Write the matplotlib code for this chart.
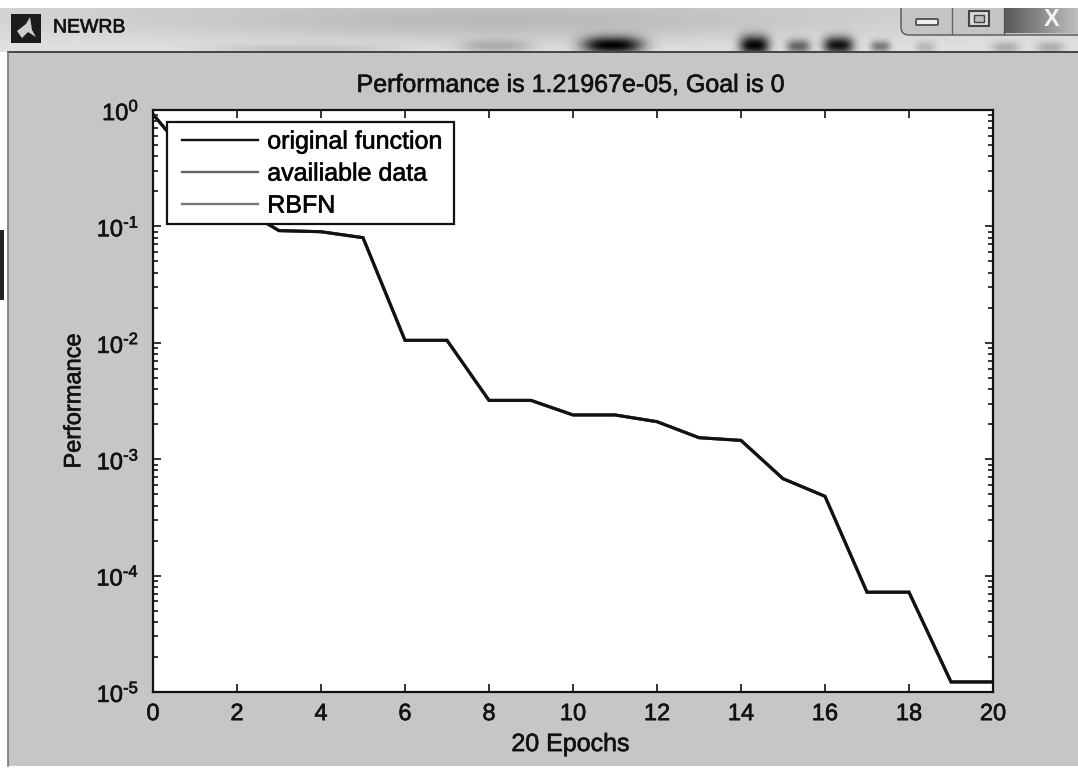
#!/usr/bin/env python3
"""NEWRB training performance window, greyscale screenshot look."""
import numpy as np
import matplotlib
matplotlib.use("Agg")
import matplotlib.pyplot as plt
import matplotlib.patheffects as pe
from matplotlib.patches import FancyBboxPatch, Rectangle, Polygon
from matplotlib.ticker import LogLocator, NullFormatter

plt.rcParams["font.family"] = ["Liberation Sans", "DejaVu Sans"]
plt.rcParams["mathtext.fontset"] = "custom"
plt.rcParams["mathtext.rm"] = "Liberation Sans"
plt.rcParams["mathtext.default"] = "regular"

epochs = [0, 1, 2, 3, 4, 5, 6, 7, 8, 9, 10, 11, 12, 13, 14, 15, 16, 17, 18, 19, 20]
performance = [0.92, 0.34, 0.15, 0.092, 0.09, 0.08, 0.0105, 0.0105, 0.0032, 0.0032,
               0.0024, 0.0024, 0.0021, 0.00153, 0.00145, 0.00068, 0.00048,
               7.2e-5, 7.2e-5, 1.22e-5, 1.22e-5]
series_names = ["original function", "availiable data", "RBFN"]
series_colors = ["#111111", "#666666", "#777777"]
x_ticks = [0, 2, 4, 6, 8, 10, 12, 14, 16, 18, 20]
y_ticks = [1e-5, 1e-4, 1e-3, 1e-2, 1e-1, 1]
y_tick_labels = ["$10^{\u20105}$", "$10^{\u20104}$", "$10^{\u20103}$", "$10^{\u20102}$", "$10^{\u20101}$", "$10^{0}$"]
title_text = "Performance is 1.21967e-05, Goal is 0"

W, H = 1078, 769
fig = plt.figure(figsize=(W / 100, H / 100), dpi=100, facecolor="white")
heavy = [pe.withStroke(linewidth=0.5, foreground="#222222")]

# window chrome, in pixel coordinates
bg = fig.add_axes([0, 0, 1, 1])
bg.axis("off")

yy, xx = np.mgrid[0:44, 0:W] + np.array([8, 0]).reshape(2, 1, 1)
bar = 208 - 30 * np.exp(-((xx - 500) / 330.0) ** 2) * np.exp(-((yy - 22) / 20.0) ** 2)
bar = bar + 18 * (yy / 52.0)
blobs = [(612, 45, 30, 9, 215), (754, 45, 15, 10, 215), (798, 46, 12, 7, 120),
         (838, 45, 15, 9, 205), (880, 46, 10, 6, 100), (925, 47, 10, 6, 40),
         (300, 49, 90, 5, 25), (495, 46, 35, 7, 45), (1005, 47, 14, 6, 50),
         (1050, 47, 14, 6, 50)]
for cx, cy, sx, sy, amp in blobs:
    bar = bar - amp * np.exp(-np.abs((xx - cx) / sx) ** 3) * np.exp(-((yy - cy) / sy) ** 2)
bg.imshow(np.clip(bar, 0, 255), cmap="gray", vmin=0, vmax=255, aspect="auto",
          extent=(0, W, 52, 8), zorder=0, interpolation="bilinear")

bg.add_patch(Rectangle((8, 52), W, 714, fc="#c6c6c6", ec="none", zorder=1))
bg.plot([8, W], [52, 52], color="#444444", lw=1.4, zorder=2)
bg.plot([8, 8], [52, 766], color="#777777", lw=1.2, zorder=2)
bg.add_patch(Rectangle((0, 230), 4, 70, fc="#222222", ec="none", zorder=2))

# icon and caption
bg.add_patch(Rectangle((11, 14), 30, 29, fc="#1c1c1c", ec="none", zorder=2))
bg.add_patch(Polygon([[17, 31], [26, 24], [30, 17], [32, 30], [36, 37], [28, 32], [22, 38]],
                     fc="#cfcfcf", ec="none", zorder=3))
bg.text(53, 28, "NEWRB", fontsize=14, color="#111111", va="center", ha="left", zorder=3,
        path_effects=heavy)

# caption buttons
bg.add_patch(FancyBboxPatch((901, -10), 260, 45, boxstyle="round,pad=0,rounding_size=8",
                            fc="#c4c4c4", ec="#555555", lw=1, zorder=2))
grad = np.linspace(90, 190, 60).reshape(1, -1)
bg.imshow(np.vstack([grad, grad]), cmap="gray", vmin=0, vmax=255, aspect="auto",
          extent=(1005, W, 33, 8), zorder=3)
bg.plot([952, 952], [8, 34], color="#666666", lw=1, zorder=4)
bg.plot([1004, 1004], [8, 34], color="#555555", lw=1, zorder=4)
bg.add_patch(FancyBboxPatch((917, 20), 20, 4, boxstyle="round,pad=1", fc="#eeeeee", ec="#444444",
                            lw=1.2, zorder=4))
bg.add_patch(Rectangle((969, 11), 20, 15, fc="#d8d8d8", ec="#444444", lw=1.5, zorder=4))
bg.add_patch(Rectangle((974, 15), 10, 7, fc="#bbbbbb", ec="#444444", lw=1, zorder=4))
bg.text(1052, 19, "X", fontsize=17, color="#f2f2f2", weight="bold", ha="center", va="center", zorder=5)
bg.add_patch(Rectangle((0, 0), W, 8, fc="white", ec="none", zorder=6))
bg.set_xlim(0, W)
bg.set_ylim(H, 0)

# plot area
ax = fig.add_axes([153 / W, 1 - 692 / H, 840 / W, 582 / H])
for name, color in reversed(list(zip(series_names, series_colors))):
    ax.semilogy(epochs, performance, color=color, lw=2.2, label=name, solid_joinstyle="miter")
ax.set_xlim(0, 20)
ax.set_ylim(1e-5, 1)
ax.set_xticks(x_ticks)
ax.set_yticks(y_ticks)
ax.set_yticklabels(y_tick_labels)
ax.tick_params(which="major", direction="in", top=True, right=True, length=6, width=1.2,
               labelsize=17, colors="#111111")
ax.tick_params(axis="x", which="major", pad=8)
ax.tick_params(axis="y", which="major", pad=10)
ax.yaxis.set_minor_locator(LogLocator(base=10, subs=np.arange(2, 10), numticks=12))
ax.yaxis.set_minor_formatter(NullFormatter())
ax.tick_params(which="minor", direction="in", left=True, right=True, length=3.5, width=1.1)
for spine in ax.spines.values():
    spine.set_linewidth(1.6)
    spine.set_color("#111111")
ax.set_title(title_text, fontsize=18, color="#111111", pad=13, x=0.497)
ax.set_xlabel("20 Epochs", fontsize=18, color="#111111", labelpad=5, x=0.497)
ax.set_ylabel("Performance", fontsize=17, color="#111111", labelpad=8)
for label in ax.get_xticklabels() + ax.get_yticklabels() + [ax.title, ax.xaxis.label, ax.yaxis.label]:
    label.set_path_effects(heavy)

# legend frame is drawn by hand, the box in the picture is tighter than the entries
ax.add_patch(Rectangle((167, 122), 287, 102, transform=bg.transData, fc="white", ec="#111111",
                       lw=1.6, zorder=4, clip_on=False))
handles, labels = ax.get_legend_handles_labels()
leg = ax.legend(handles[::-1], labels[::-1], loc="upper left",
                bbox_to_anchor=(14 / 840, 1 - 4.6 / 582), borderaxespad=0, frameon=False,
                fontsize=18, handlelength=3.05, labelspacing=0.32, handletextpad=0.36,
                borderpad=0.6)
for line in leg.get_lines():
    line.set_linewidth(1.7)
for text in leg.get_texts():
    text.set_path_effects(heavy)

fig.savefig("out.png", dpi=100, facecolor="white")
